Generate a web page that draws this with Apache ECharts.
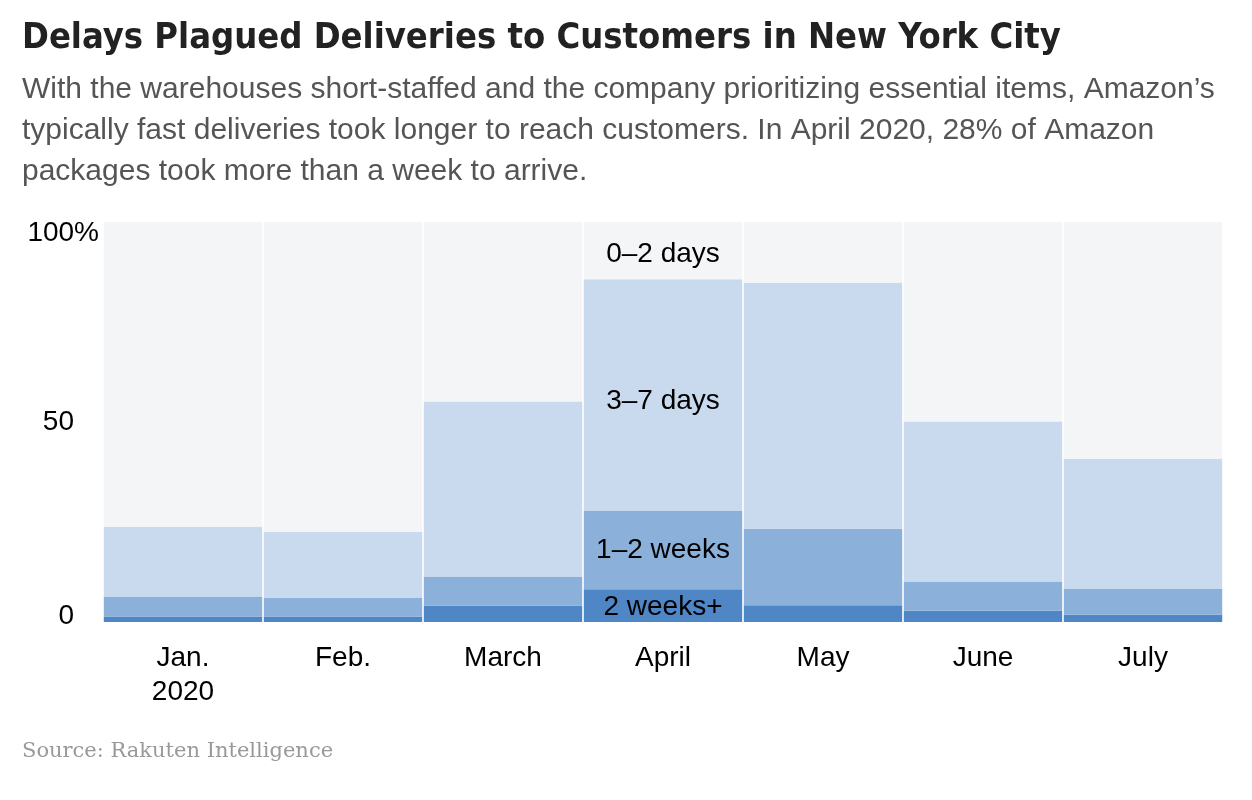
<!DOCTYPE html>
<html lang="en">
<head>
    <meta charset="UTF-8">
    <script src="https://cdn.jsdelivr.net/npm/echarts@6/dist/echarts.min.js"></script>
    <title>Delays Plagued Deliveries</title>
    <style>
        body { margin: 0; background: #fff; }
        #main { width: 1252px; height: 800px; }
    </style>
</head>
<body>
    <div id="main"></div>
    <script>
        // months and share of packages (%) by delivery time
        var months = ['Jan.\n2020', 'Feb.', 'March', 'April', 'May', 'June', 'July'];
        var twoWeeksPlus = [1.4, 1.4, 4.1, 8.2, 4.2, 2.8, 1.8];
        var oneToTwoWeeks = [5.0, 4.6, 7.3, 19.7, 19.1, 7.3, 6.6];
        var threeToSevenDays = [17.4, 16.5, 43.7, 57.8, 61.5, 40.0, 32.4];
        var zeroToTwoDays = [76.2, 77.5, 44.9, 14.3, 15.2, 49.9, 59.2];
        var yTicks = [0, 50, 100];

        var labelMonth = 3; // April carries the segment labels
        var labelFont = '"Liberation Sans", Arial, sans-serif';

        function withLabel(values) {
            return values.map(function (v, i) {
                if (i !== labelMonth) return v;
                return {
                    value: v,
                    label: { show: true }
                };
            });
        }

        function makeSeries(name, values, color, dy) {
            return {
                name: name,
                type: 'bar',
                stack: 'all',
                barCategoryGap: '1%',
                itemStyle: { color: color },
                label: {
                    show: false,
                    position: 'inside',
                    offset: [0, dy],
                    formatter: '{a}',
                    color: '#000',
                    fontSize: 28,
                    fontFamily: labelFont
                },
                emphasis: { disabled: true },
                data: withLabel(values)
            };
        }

        var myChart = echarts.init(document.getElementById('main'));
        var option = {
            animation: false,
            title: [{
                text: 'Delays Plagued Deliveries to Customers in New York City',
                left: 22,
                top: 21,
                padding: 0,
                textStyle: {
                    fontFamily: '"Liberation Sans Narrow", "DejaVu Sans Condensed", sans-serif',
                    fontWeight: 'bold',
                    fontSize: 36,
                    color: '#222'
                }
            }, {
                text: 'With the warehouses short-staffed and the company prioritizing essential items, Amazon\u2019s\n' +
                    'typically fast deliveries took longer to reach customers. In April 2020, 28% of Amazon\n' +
                    'packages took more than a week to arrive.',
                left: 22,
                top: 69,
                padding: 0,
                textStyle: {
                    fontFamily: labelFont,
                    fontWeight: 'normal',
                    fontSize: 30,
                    lineHeight: 41,
                    color: '#555'
                }
            }, {
                text: 'Source: Rakuten Intelligence',
                left: 22,
                top: 741,
                padding: 0,
                textStyle: {
                    fontFamily: '"DejaVu Serif", "Liberation Serif", serif',
                    fontWeight: 'normal',
                    fontSize: 21,
                    color: '#999'
                }
            }],
            grid: {
                left: 103,
                right: 29,
                top: 222,
                bottom: 178
            },
            xAxis: {
                type: 'category',
                data: months,
                axisLine: { show: false },
                axisTick: { show: false },
                axisLabel: {
                    margin: 19,
                    fontSize: 28,
                    lineHeight: 34,
                    color: '#000',
                    fontFamily: labelFont
                }
            },
            yAxis: {
                type: 'value',
                min: yTicks[0],
                max: yTicks[yTicks.length - 1],
                interval: 50,
                splitLine: { show: false },
                axisLine: { show: false },
                axisTick: { show: false },
                axisLabel: {
                    margin: 4,
                    fontSize: 28,
                    color: '#000',
                    fontFamily: labelFont,
                    formatter: function (v) {
                        if (v === 100) return '{top|100%}';
                        if (v === 0) return '{bot|0}';
                        return '{mid|' + v + '}';
                    },
                    rich: {
                        top: { fontSize: 28, fontFamily: labelFont, color: '#000', padding: [22, 0, 0, 0] },
                        mid: { fontSize: 28, fontFamily: labelFont, color: '#000', padding: [0, 25, 0, 0] },
                        bot: { fontSize: 28, fontFamily: labelFont, color: '#000', padding: [0, 25, 12, 0] }
                    }
                }
            },
            series: [
                makeSeries('2 weeks+', twoWeeksPlus, '#4e86c6', 2),
                makeSeries('1\u20132 weeks', oneToTwoWeeks, '#8bb0da', 0),
                makeSeries('3\u20137 days', threeToSevenDays, '#c9daee', 6),
                makeSeries('0\u20132 days', zeroToTwoDays, '#f3f5f7', 4)
            ]
        };

        myChart.setOption(option);
    </script>
</body>
</html>
